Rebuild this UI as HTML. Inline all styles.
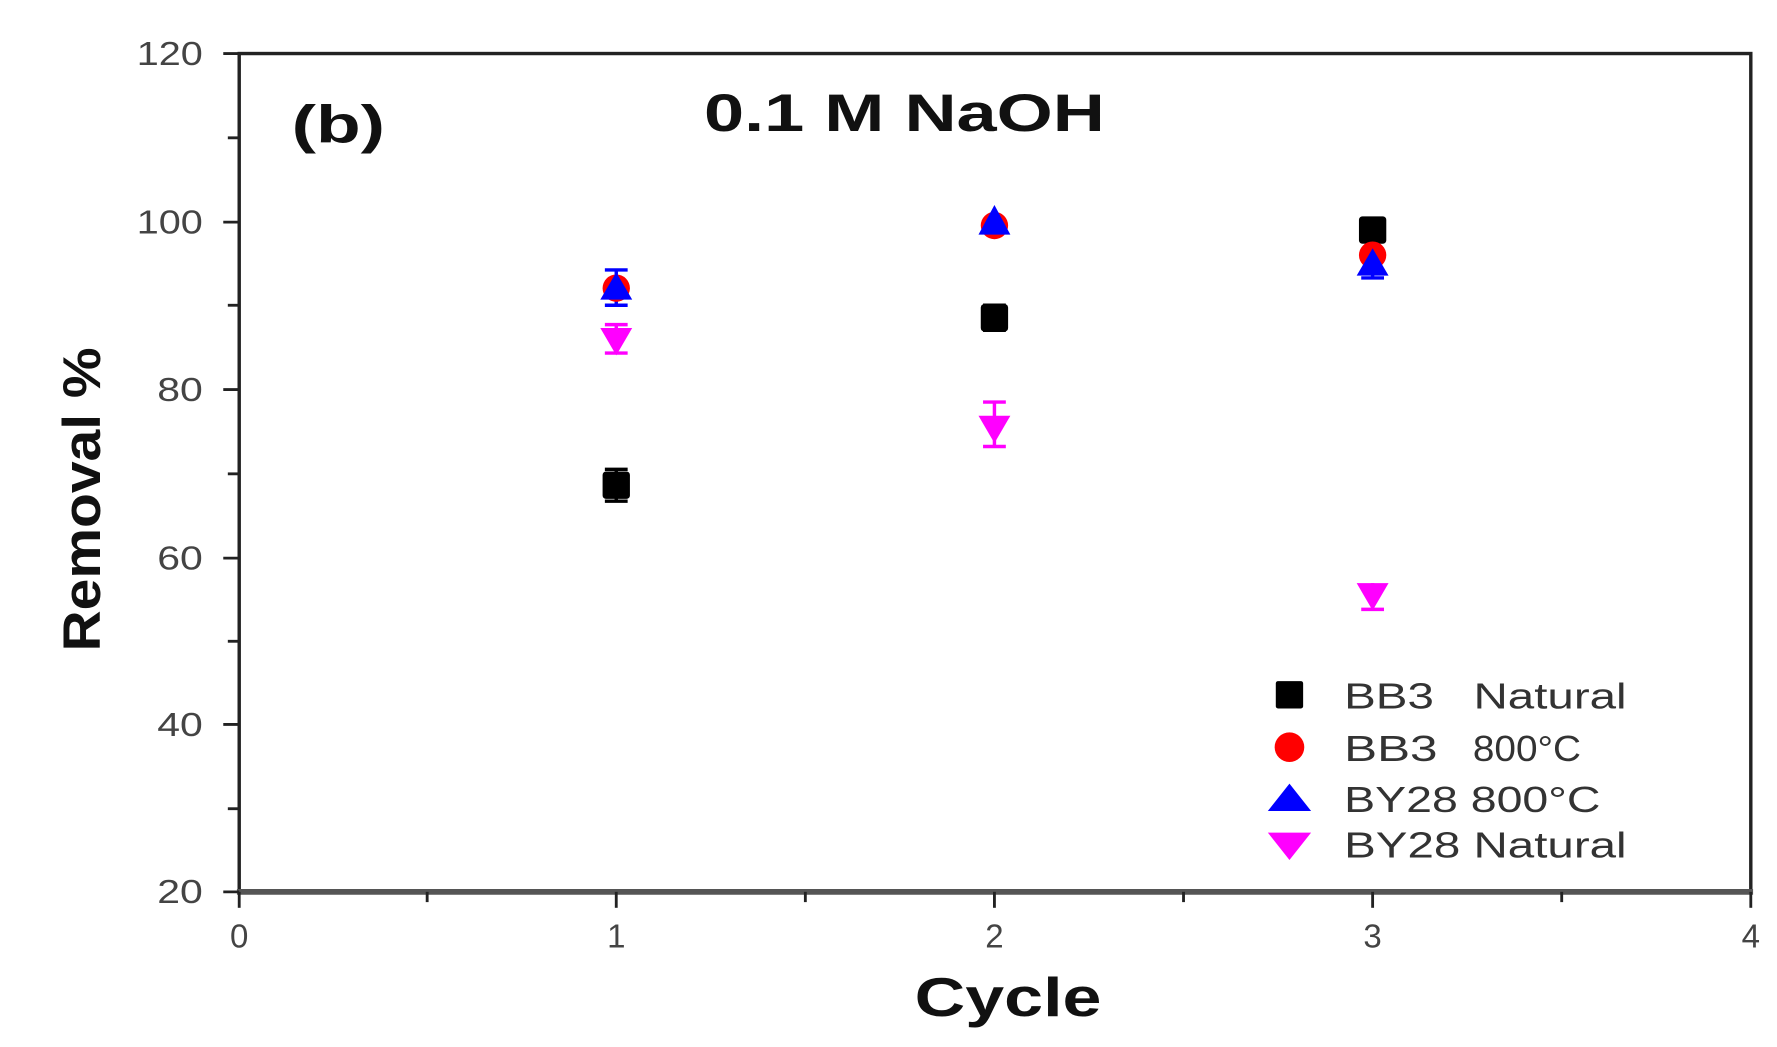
<!DOCTYPE html>
<html><head><meta charset="utf-8"><style>html,body{margin:0;padding:0;background:#fff}svg{display:block}</style></head>
<body>
<svg width="1777" height="1047" viewBox="0 0 1560 919.2" preserveAspectRatio="none" xmlns="http://www.w3.org/2000/svg" font-family="Liberation Sans, Arial, sans-serif">
<rect width="1560" height="920" fill="#fff"/>
<rect x="210" y="47" width="1327" height="736" fill="none" stroke="#222" stroke-width="3"/>
<line x1="208" y1="783" x2="1539" y2="783" stroke="#555" stroke-width="5"/>
<g stroke="#222" stroke-width="2.5">
<line x1="196" y1="47" x2="210" y2="47"/><line x1="200" y1="121" x2="210" y2="121"/>
<line x1="196" y1="195" x2="210" y2="195"/><line x1="200" y1="268" x2="210" y2="268"/>
<line x1="196" y1="342" x2="210" y2="342"/><line x1="200" y1="416" x2="210" y2="416"/>
<line x1="196" y1="490" x2="210" y2="490"/><line x1="200" y1="563" x2="210" y2="563"/>
<line x1="196" y1="636" x2="210" y2="636"/><line x1="200" y1="710" x2="210" y2="710"/>
<line x1="196" y1="783" x2="210" y2="783"/>
<line x1="210" y1="783" x2="210" y2="797"/><line x1="375" y1="783" x2="375" y2="792"/>
<line x1="541" y1="783" x2="541" y2="797"/><line x1="707" y1="783" x2="707" y2="792"/>
<line x1="873" y1="783" x2="873" y2="797"/><line x1="1039" y1="783" x2="1039" y2="792"/>
<line x1="1205" y1="783" x2="1205" y2="797"/><line x1="1371" y1="783" x2="1371" y2="792"/>
<line x1="1537" y1="783" x2="1537" y2="797"/>
</g>
<g font-size="29" fill="#444" text-anchor="end">
<text x="178" y="57" textLength="58" lengthAdjust="spacingAndGlyphs">120</text>
<text x="178" y="205" textLength="58" lengthAdjust="spacingAndGlyphs">100</text>
<text x="178" y="352" textLength="40" lengthAdjust="spacingAndGlyphs">80</text>
<text x="178" y="500" textLength="40" lengthAdjust="spacingAndGlyphs">60</text>
<text x="178" y="646" textLength="40" lengthAdjust="spacingAndGlyphs">40</text>
<text x="178" y="793" textLength="40" lengthAdjust="spacingAndGlyphs">20</text>
</g>
<g font-size="29" fill="#444" text-anchor="middle">
<text x="210" y="832">0</text><text x="541" y="832">1</text><text x="873" y="832">2</text>
<text x="1205" y="832">3</text><text x="1537" y="832">4</text>
</g>
<text x="803" y="892" font-size="48" font-weight="bold" fill="#111" textLength="164" lengthAdjust="spacingAndGlyphs">Cycle</text>
<text transform="translate(88,572) rotate(-90)" font-size="46" font-weight="bold" fill="#111" textLength="267" lengthAdjust="spacingAndGlyphs">Removal %</text>
<text x="256" y="125" font-size="46" font-weight="bold" fill="#111" textLength="82" lengthAdjust="spacingAndGlyphs">(b)</text>
<text x="618" y="115" font-size="46" font-weight="bold" fill="#111" textLength="352" lengthAdjust="spacingAndGlyphs">0.1 M NaOH</text>
<g stroke-width="3">
<path d="M541 412V440M531 412H551M531 440H551" stroke="#000"/>
<path d="M873 268V290M863 268H883M863 290H883" stroke="#000"/>
<path d="M541 237V268M531 237H551M531 268H551" stroke="#00f"/>
<path d="M541 285V310M531 285H551M531 310H551" stroke="#f0f"/>
<path d="M873 352V392M863 353H883M863 392H883" stroke="#f0f"/>
<path d="M1205 512V535M1195 535H1215" stroke="#f0f"/>
<path d="M1205 218V244M1195 244H1215" stroke="#00f"/>
</g>
<g>
<rect x="529" y="414" width="24" height="24" rx="3" fill="#000"/>
<rect x="861" y="267" width="24" height="24" rx="3" fill="#000"/>
<rect x="1193" y="190" width="24" height="24" rx="3" fill="#000"/>
<circle cx="541" cy="253" r="12" fill="#f00"/>
<circle cx="873" cy="198" r="12" fill="#f00"/>
<circle cx="1205" cy="224" r="12" fill="#f00"/>
<path d="M541 239L555 263H527Z" fill="#00f"/>
<path d="M873 180L887 206H859Z" fill="#00f"/>
<path d="M1205 218L1219 242H1191Z" fill="#00f"/>
<path d="M527 288H555L541 312Z" fill="#f0f"/>
<path d="M859 365H887L873 389Z" fill="#f0f"/>
<path d="M1191 512H1219L1205 536Z" fill="#f0f"/>
</g>
<rect x="1120" y="598" width="24" height="24" rx="2" fill="#000"/>
<circle cx="1132" cy="656" r="13" fill="#f00"/>
<path d="M1132 688L1151 712H1113Z" fill="#00f"/>
<path d="M1113 731H1151L1132 755Z" fill="#f0f"/>
<g font-size="32" fill="#333">
<text x="1180" y="622" textLength="248" lengthAdjust="spacingAndGlyphs">BB3&#160;&#160;&#160;Natural</text>
<text x="1180" y="668" textLength="82" lengthAdjust="spacingAndGlyphs">BB3</text>
<text x="1293" y="668" textLength="95" lengthAdjust="spacingAndGlyphs">800°C</text>
<text x="1180" y="713" textLength="225" lengthAdjust="spacingAndGlyphs">BY28 800°C</text>
<text x="1180" y="753" textLength="248" lengthAdjust="spacingAndGlyphs">BY28 Natural</text>
</g>
</svg>
</body></html>
